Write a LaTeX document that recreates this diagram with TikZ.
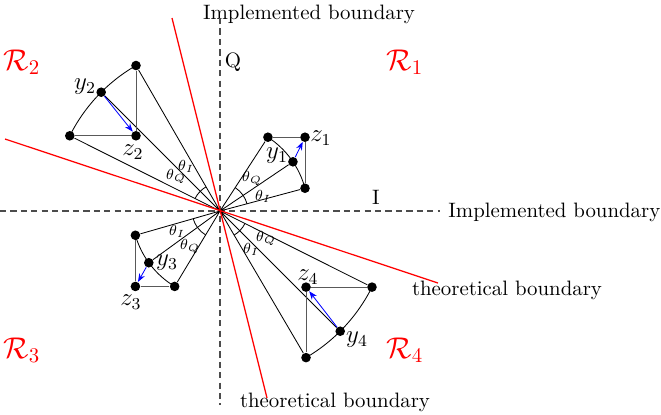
\documentclass[tikz,border=0pt]{standalone}
\usepackage{amsmath}
\usetikzlibrary{arrows.meta, angles}

\begin{document}
\begin{tikzpicture}[x=0.48pt, y=0.48pt,
    dot/.style={circle, fill=black, inner sep=0pt, minimum size=4.6pt},
    axis/.style={dash pattern=on 3pt off 2pt, semithick, black!70},
    thbound/.style={red, line width=0.6pt},
    side/.style={black!65},
    arr/.style={-{Stealth[length=4pt, width=3pt]}, blue},
    angmark/.style={draw, angle radius=13.4pt},
    region/.style={red, font=\Large},
    lbl/.style={font=\large, inner sep=0pt},
    thlbl/.style={font=\scriptsize, inner sep=0pt}
  ]
  \useasboundingbox (-220,-203) rectangle (441,211);
  \coordinate (O) at (0,0);

  \node (bdQ) at (89,197) {Implemented boundary};
  \node[anchor=west, inner sep=0pt] (bdI) at (228,-1) {Implemented boundary};
  \node (thb) at (115,-191) {theoretical boundary};
  \node (thr) at (287,-79) {theoretical boundary};
  \node (Qlab) at (13,149) {Q};
  \node (Ilab) at (156,14) {I};
  \node[region] (R1) at (185,149) {$\mathcal{R}_1$};
  \node[region] (R2) at (-198,149) {$\mathcal{R}_2$};
  \node[region] (R3) at (-198,-139) {$\mathcal{R}_3$};
  \node[region] (R4) at (185,-139) {$\mathcal{R}_4$};

  \coordinate (xl) at (-220,0);
  \coordinate (xr) at (220,0);
  \coordinate (yt) at (0,193);
  \coordinate (yb) at (0,-194);
  \draw[axis] (xl) -- (xr);
  \draw[axis] (yt) -- (yb);

  \node[dot] (a1) at (57:88) {};
  \node[dot] (y1) at (34:88) {};
  \node[dot] (b1) at (15:88) {};
  \node[dot] (z1) at (b1 |- a1) {};
  \node[dot] (a2) at (120:168) {};
  \node[dot] (y2) at (135:168) {};
  \node[dot] (b2) at (153.4:168) {};
  \node[dot] (z2) at (a2 |- b2) {};
  \node[dot] (a3) at (196:88) {};
  \node[dot] (y3) at (216:88) {};
  \node[dot] (b3) at (239:88) {};
  \node[dot] (z3) at (a3 |- b3) {};
  \node[dot] (a4) at (-26.6:170) {};
  \node[dot] (y4) at (-45:170) {};
  \node[dot] (b4) at (-59.6:170) {};
  \node[dot] (z4) at (b4 |- a4) {};

  \draw (O) -- (a1) (O) -- (y1) (O) -- (b1);
  \draw (b1) arc[start angle=15, end angle=57, radius=88];
  \draw[side] (a1) -- (z1) -- (b1);
  \draw[arr] (y1) -- (z1);
  \pic[angmark] {angle=b1--O--y1};
  \pic[angmark] {angle=y1--O--a1};

  \draw (O) -- (a2) (O) -- (y2) (O) -- (b2);
  \draw (a2) arc[start angle=120, end angle=153.4, radius=168];
  \draw[side] (a2) -- (z2) -- (b2);
  \draw[arr] (y2) -- (z2);
  \pic[angmark] {angle=a2--O--y2};
  \pic[angmark] {angle=y2--O--b2};

  \draw (O) -- (a3) (O) -- (y3) (O) -- (b3);
  \draw (a3) arc[start angle=196, end angle=239, radius=88];
  \draw[side] (a3) -- (z3) -- (b3);
  \draw[arr] (y3) -- (z3);
  \pic[angmark] {angle=a3--O--y3};
  \pic[angmark] {angle=y3--O--b3};

  \draw (O) -- (a4) (O) -- (y4) (O) -- (b4);
  \draw (b4) arc[start angle=-59.6, end angle=-26.6, radius=170];
  \draw[side] (a4) -- (z4) -- (b4);
  \draw[arr] (y4) -- (z4);
  \pic[angmark] {angle=y4--O--a4};
  \pic[angmark] {angle=b4--O--y4};

  \coordinate (t1a) at (-48,193);
  \coordinate (t1b) at (47,-187);
  \coordinate (t2a) at (-215,72);
  \coordinate (t2b) at (218,-72);
  \draw[thbound] (t1a) -- (t1b);
  \draw[thbound] (t2a) -- (t2b);

  \node[lbl] (y1l) at (57,55) {$y_1$};
  \node[lbl] (z1l) at (101,73) {$z_1$};
  \node[thlbl] (thQ1) at (32,33) {$\theta_Q$};
  \node[thlbl] (thI1) at (43,15) {$\theta_I$};
  \node[lbl] (y2l) at (-135,124) {$y_2$};
  \node[lbl] (z2l) at (-87,59) {$z_2$};
  \node[thlbl] (thI2) at (-34,45) {$\theta_I$};
  \node[thlbl] (thQ2) at (-44,35) {$\theta_Q$};
  \node[lbl] (y3l) at (-53,-52) {$y_3$};
  \node[lbl] (z3l) at (-89,-91) {$z_3$};
  \node[thlbl] (thI3) at (-43,-20) {$\theta_I$};
  \node[thlbl] (thQ3) at (-30,-35) {$\theta_Q$};
  \node[lbl] (y4l) at (137,-129) {$y_4$};
  \node[lbl] (z4l) at (88,-66) {$z_4$};
  \node[thlbl] (thQ4) at (46,-27) {$\theta_Q$};
  \node[thlbl] (thI4) at (31,-38) {$\theta_I$};
\end{tikzpicture}
\end{document}
